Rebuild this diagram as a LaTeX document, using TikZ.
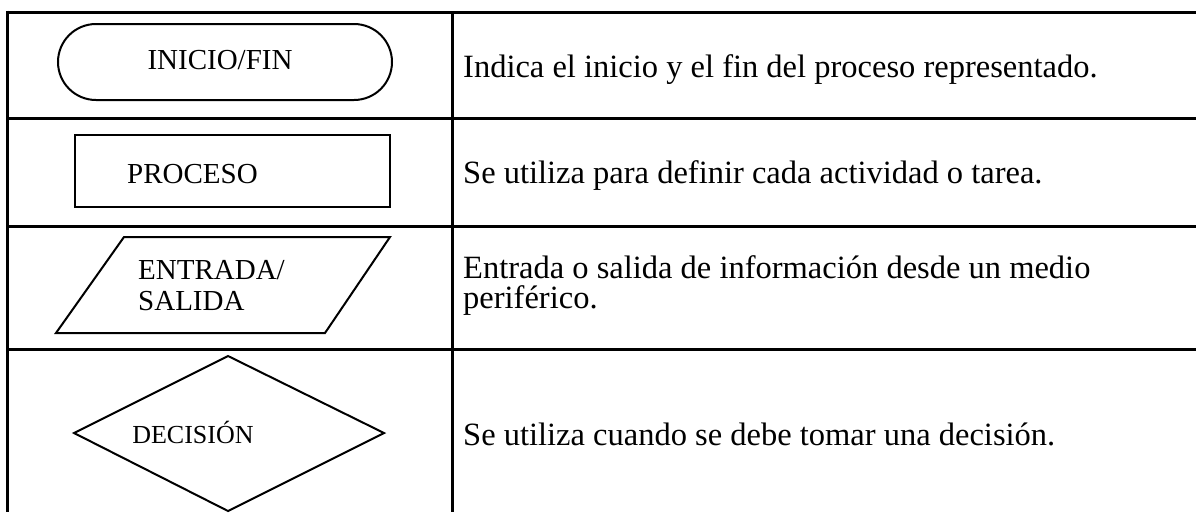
\documentclass[tikz,border=0pt]{standalone}
\usepackage{fontspec}
\setmainfont{Liberation Serif}
\usetikzlibrary{shapes.misc}

\begin{document}
\begin{tikzpicture}[x=1pt,y=-1pt,
    rejilla/.style={draw=black,line width=3pt},
    figura/.style={draw=black,line width=2pt,inner sep=0pt},
    etq/.style={inner sep=0pt,font=\fontsize{29}{31}\selectfont,align=left},
    desc/.style={inner sep=0pt,anchor=base west,font=\fontsize{32.5}{30}\selectfont,align=left}]
    \useasboundingbox (0,0) rectangle (1196,512);

    \draw [rejilla] (7,12) -- (1196,12);
    \draw [rejilla] (7,118) -- (1196,118);
    \draw [rejilla] (7,226) -- (1196,226);
    \draw [rejilla] (7,349) -- (1196,349);
    \draw [rejilla] (7,10.5) -- (7,512);
    \draw [rejilla] (452,12) -- (452,512);

    \node[figura, rounded rectangle, minimum width=334pt, minimum height=76pt] (inicio) at (225,62) {};
    \node[etq, anchor=base] (inicio-t) at (220,69) {INICIO/FIN};

    \node[figura, rectangle, minimum width=315pt, minimum height=72pt] (proceso) at (232.5,171) {};
    \node[etq, anchor=base west] (proceso-t) at (127,183) {PROCESO};

    \coordinate (es-a) at (124,237);
    \coordinate (es-b) at (390,237);
    \coordinate (es-c) at (325,333);
    \coordinate (es-d) at (56,333);
    \draw [figura, line join=miter] (es-a) -- (es-b) -- (es-c) -- (es-d) -- cycle;
    \node[etq, anchor=base west] (es-t) at (138,310) {ENTRADA/\\SALIDA};

    \coordinate (dec-n) at (228,356);
    \coordinate (dec-e) at (384,433);
    \coordinate (dec-s) at (228,511);
    \coordinate (dec-w) at (74,433);
    \draw [figura, line join=miter] (dec-n) -- (dec-e) -- (dec-s) -- (dec-w) -- cycle;
    \node[etq, anchor=base, font=\fontsize{26}{30}\selectfont] (dec-t) at (193,443) {DECISIÓN};

    \node[desc] (d1) at (463,77) {Indica el inicio y el fin del proceso representado.};
    \node[desc] (d2) at (463,183) {Se utiliza para definir cada actividad o tarea.};
    \node[desc] (d3) at (463,308) {Entrada o salida de información desde un medio\\periférico.};
    \node[desc] (d4) at (463,445) {Se utiliza cuando se debe tomar una decisión.};
\end{tikzpicture}
\end{document}
